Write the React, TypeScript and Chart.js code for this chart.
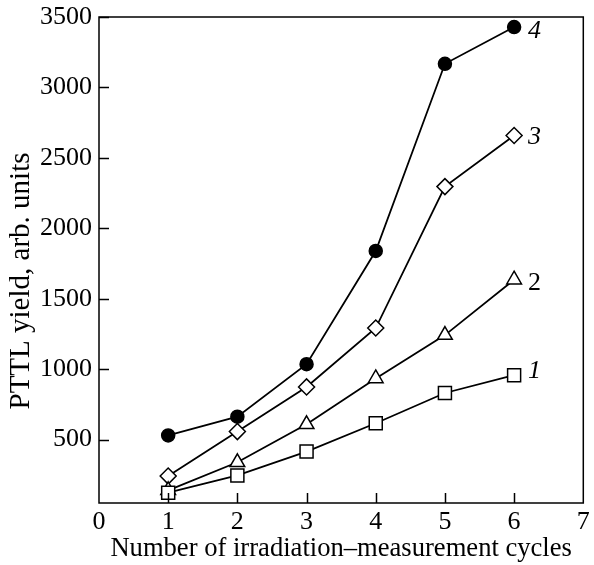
import { useEffect, useRef } from "react";
import { Chart, registerables } from "chart.js";

Chart.register(...registerables);

// Irradiation–measurement cycle number (x) and PTTL yield for curves 1–4
const cycles = [1, 2, 3, 4, 5, 6];
const curve1 = [123, 246, 415, 616, 831, 957];
const curve2 = [140, 339, 609, 934, 1242, 1635];
const curve3 = [241, 557, 874, 1292, 2296, 2659];
const curve4 = [530, 663, 1035, 1839, 3168, 3429];
const curveNames = ["1", "2", "3", "4"];

const xTicks = [0, 1, 2, 3, 4, 5, 6, 7];
const yTicks = [500, 1000, 1500, 2000, 2500, 3000, 3500];

const xTitle = "Number of irradiation\u2013measurement cycles";
const yTitle = "PTTL yield, arb. units";

const FONT = "'Liberation Serif', 'Times New Roman', serif";

// vertical nudge and slant of each curve's number label
const nameOffsetY = [-4, 3, 2, 4];
const nameItalic = [true, false, true, true];

const frameAndLabels = {
  id: "frameAndLabels",
  afterDatasetsDraw(chart: any) {
    const { ctx, chartArea, scales } = chart;
    const { left, right, top, bottom } = chartArea;
    ctx.save();
    ctx.strokeStyle = "#000";
    ctx.lineWidth = 1.5;
    ctx.strokeRect(left, top, right - left, bottom - top);

    // inward tick marks
    const tl = 10;
    ctx.beginPath();
    for (const v of yTicks) {
      const y = Math.round(scales.y.getPixelForValue(v)) + 0.5;
      ctx.moveTo(left, y);
      ctx.lineTo(left + tl, y);
    }
    for (const v of xTicks) {
      if (v === xTicks[0] || v === xTicks[xTicks.length - 1]) continue;
      const x = Math.round(scales.x.getPixelForValue(v)) + 0.5;
      ctx.moveTo(x, bottom);
      ctx.lineTo(x, bottom - tl);
    }
    ctx.stroke();

    // curve numbers next to the last point of each curve
    ctx.fillStyle = "#000";
    ctx.textAlign = "left";
    ctx.textBaseline = "middle";
    chart.data.datasets.forEach((_: any, i: number) => {
      const meta = chart.getDatasetMeta(i);
      const pt = meta.data[meta.data.length - 1];
      if (!pt) return;
      ctx.font = `${nameItalic[i] ? "italic " : ""}26px ${FONT}`;
      ctx.fillText(curveNames[i], pt.x + 14, pt.y + nameOffsetY[i]);
    });

    // y-axis title, rotated
    ctx.save();
    ctx.translate(21, 281);
    ctx.rotate(-Math.PI / 2);
    ctx.textAlign = "center";
    ctx.textBaseline = "middle";
    ctx.font = `29px ${FONT}`;
    ctx.fillText(yTitle, 0, 0);
    ctx.restore();

    ctx.restore();
  },
};

function series(values: number[], style: string, radius: number, fill: string) {
  return {
    data: cycles.map((c, i) => ({ x: c, y: values[i] })),
    borderColor: "#000",
    borderWidth: 1.8,
    pointStyle: style,
    pointRadius: radius,
    pointBackgroundColor: fill,
    pointBorderColor: "#000",
    pointBorderWidth: 1.5,
    showLine: true,
    tension: 0,
  };
}

export default function App() {
  const canvasRef = useRef<HTMLCanvasElement | null>(null);

  useEffect(() => {
    document.body.style.margin = "0";
    const canvas = canvasRef.current;
    if (!canvas) return;
    const chart = new Chart(canvas, {
      type: "scatter",
      data: {
        datasets: [
          series(curve1, "rect", 9.2, "#fff"),
          series(curve2, "triangle", 8.5, "#fff"),
          series(curve3, "rectRot", 8, "#fff"),
          series(curve4, "circle", 6.5, "#000"),
        ],
      },
      options: {
        animation: false,
        responsive: false,
        devicePixelRatio: 1,
        layout: { padding: { top: 17, right: 7, left: 0, bottom: 0 } },
        plugins: {
          legend: { display: false },
          tooltip: { enabled: false },
        },
        scales: {
          x: {
            type: "linear",
            min: 0,
            max: 7,
            afterBuildTicks: (scale: any) => {
              scale.ticks = xTicks.map((v) => ({ value: v }));
            },
            afterFit: (scale: any) => {
              scale.height = 62;
            },
            grid: { display: false, drawTicks: false },
            border: { display: false },
            ticks: {
              color: "#000",
              padding: 4,
              font: { family: FONT, size: 26 },
              maxRotation: 0,
              autoSkip: false,
              callback: (v: any) => String(v),
            },
            title: {
              display: true,
              text: xTitle,
              color: "#000",
              font: { family: FONT, size: 26.6 },
              padding: { top: 0, bottom: 0 },
            },
          },
          y: {
            type: "linear",
            min: 50,
            max: 3500,
            afterBuildTicks: (scale: any) => {
              scale.ticks = yTicks.map((v) => ({ value: v }));
            },
            afterFit: (scale: any) => {
              scale.width = 99;
            },
            grid: { display: false, drawTicks: false },
            border: { display: false },
            ticks: {
              color: "#000",
              padding: 7,
              font: { family: FONT, size: 26, lineHeight: 0.7 },
              autoSkip: false,
              callback: (v: any) => String(v),
            },
            title: { display: false },
          },
        },
      },
      plugins: [frameAndLabels],
    });
    return () => chart.destroy();
  }, []);

  return <canvas ref={canvasRef} width={594} height={565} style={{ display: "block" }} />;
}
